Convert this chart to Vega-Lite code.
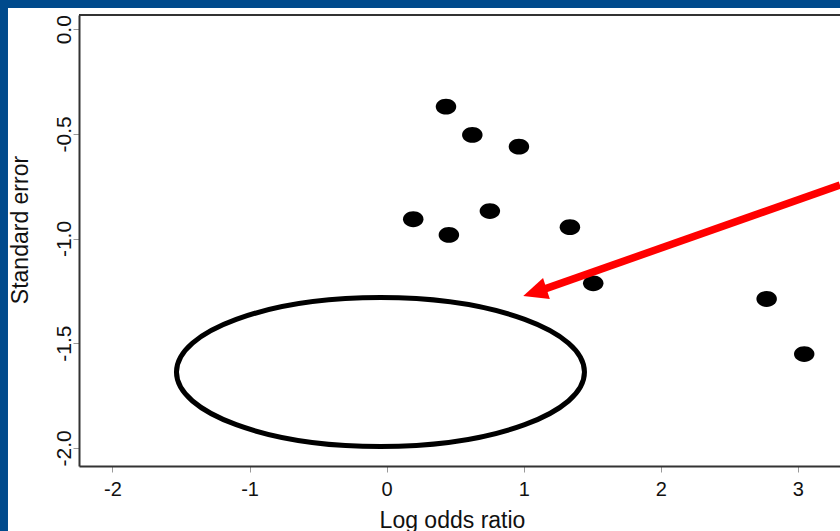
{
  "$schema": "https://vega.github.io/schema/vega-lite/v6.json",
  "width": 761,
  "height": 451,
  "autosize": {"type": "none"},
  "padding": {"left": 79, "top": 15, "right": 0, "bottom": 65},
  "background": "#004a8c",
  "config": {
    "view": {"stroke": null},
    "font": "Liberation Sans",
    "axis": {
      "grid": false, "zindex": 1, "labelColor": "#111111", "tickSize": 6, "tickColor": "#999999",
      "domainColor": "#333333", "domainWidth": 2, "titleFontSize": 23, "titleFontWeight": "normal", "titleColor": "#111111"
    },
    "axisX": {"labelFontSize": 20},
    "axisY": {"labelFontSize": 21}
  },
  "data": {"values": [{"frame": 1}]},
  "datasets": {
    "studies": [
      {"log_or": 0.433, "se": -0.370},
      {"log_or": 0.625, "se": -0.505},
      {"log_or": 0.965, "se": -0.561},
      {"log_or": 0.194, "se": -0.908},
      {"log_or": 0.454, "se": -0.983},
      {"log_or": 0.753, "se": -0.869},
      {"log_or": 1.337, "se": -0.946},
      {"log_or": 1.507, "se": -1.214},
      {"log_or": 2.772, "se": -1.289},
      {"log_or": 3.046, "se": -1.552}
    ],
    "arrow": [
      {"log_or": 3.307, "se": -0.744},
      {"log_or": 1.119, "se": -1.249}
    ],
    "arrowhead": [{"log_or": 1.081, "se": -1.257}],
    "ellipse": [{"log_or": -0.045, "se": -1.638}]
  },
  "layer": [
    {
      "mark": {"type": "rect", "fill": "white"},
      "encoding": {
        "x": {"datum": -2.762, "type": "quantitative", "scale": {"domain": [-2.244, 3.307], "nice": false, "zero": false},
          "axis": {"zindex": 1, "values": [-2, -1, 0, 1, 2, 3], "labelExpr": "datum.value < 0 ? '-' + format(-datum.value, 'd') : format(datum.value, 'd')", "labelBaseline": "alphabetic", "labelPadding": 23, "title": "Log odds ratio", "titleX": 373, "titleY": 61, "titleBaseline": "alphabetic", "titleAlign": "center"}},
        "x2": {"datum": 3.5},
        "y": {"datum": 0.102, "type": "quantitative", "scale": {"domain": [-2.087, 0.068], "nice": false, "zero": false},
          "axis": {"zindex": 1, "values": [0, -0.5, -1, -1.5, -2], "labelExpr": "datum.value < 0 ? '-' + format(-datum.value, '.1f') : format(datum.value, '.1f')", "labelAngle": -90, "labelAlign": "center", "labelBaseline": "alphabetic", "labelPadding": 3, "title": "Standard error", "titleX": -52, "titleY": 214.5, "titleBaseline": "alphabetic", "titleAlign": "center", "titleAngle": -90}},
        "y2": {"datum": -2.6}
      }
    },
    {
      "mark": {"type": "rule", "color": "#333333", "strokeWidth": 2},
      "encoding": {
        "y": {"datum": 0.068, "type": "quantitative", "scale": {"domain": [-2.087, 0.068], "nice": false, "zero": false},
          "axis": {"zindex": 1, "values": [0, -0.5, -1, -1.5, -2], "labelExpr": "datum.value < 0 ? '-' + format(-datum.value, '.1f') : format(datum.value, '.1f')", "labelAngle": -90, "labelAlign": "center", "labelBaseline": "alphabetic", "labelPadding": 3, "title": "Standard error", "titleX": -52, "titleY": 214.5, "titleBaseline": "alphabetic", "titleAlign": "center", "titleAngle": -90}}
      }
    },
    {
      "data": {"name": "ellipse"},
      "mark": {"type": "point", "shape": "M-1,0A1,0.365 0 1,0 1,0A1,0.365 0 1,0 -1,0", "size": 166464, "filled": false, "stroke": "black", "strokeWidth": 5, "opacity": 1},
      "encoding": {
        "x": {"field": "log_or", "type": "quantitative", "scale": {"domain": [-2.244, 3.307], "nice": false, "zero": false},
          "axis": {"zindex": 1, "values": [-2, -1, 0, 1, 2, 3], "labelExpr": "datum.value < 0 ? '-' + format(-datum.value, 'd') : format(datum.value, 'd')", "labelBaseline": "alphabetic", "labelPadding": 23, "title": "Log odds ratio", "titleX": 373, "titleY": 61, "titleBaseline": "alphabetic", "titleAlign": "center"}},
        "y": {"field": "se", "type": "quantitative", "scale": {"domain": [-2.087, 0.068], "nice": false, "zero": false},
          "axis": {"zindex": 1, "values": [0, -0.5, -1, -1.5, -2], "labelExpr": "datum.value < 0 ? '-' + format(-datum.value, '.1f') : format(datum.value, '.1f')", "labelAngle": -90, "labelAlign": "center", "labelBaseline": "alphabetic", "labelPadding": 3, "title": "Standard error", "titleX": -52, "titleY": 214.5, "titleBaseline": "alphabetic", "titleAlign": "center", "titleAngle": -90}}
      }
    },
    {
      "data": {"name": "studies"},
      "mark": {"type": "point", "shape": "M-1,0A1,0.77 0 1,0 1,0A1,0.77 0 1,0 -1,0", "size": 420, "filled": true, "color": "black", "opacity": 1},
      "encoding": {
        "x": {"field": "log_or", "type": "quantitative", "scale": {"domain": [-2.244, 3.307], "nice": false, "zero": false},
          "axis": {"zindex": 1, "values": [-2, -1, 0, 1, 2, 3], "labelExpr": "datum.value < 0 ? '-' + format(-datum.value, 'd') : format(datum.value, 'd')", "labelBaseline": "alphabetic", "labelPadding": 23, "title": "Log odds ratio", "titleX": 373, "titleY": 61, "titleBaseline": "alphabetic", "titleAlign": "center"}},
        "y": {"field": "se", "type": "quantitative", "scale": {"domain": [-2.087, 0.068], "nice": false, "zero": false},
          "axis": {"zindex": 1, "values": [0, -0.5, -1, -1.5, -2], "labelExpr": "datum.value < 0 ? '-' + format(-datum.value, '.1f') : format(datum.value, '.1f')", "labelAngle": -90, "labelAlign": "center", "labelBaseline": "alphabetic", "labelPadding": 3, "title": "Standard error", "titleX": -52, "titleY": 214.5, "titleBaseline": "alphabetic", "titleAlign": "center", "titleAngle": -90}}
      }
    },
    {
      "data": {"name": "arrow"},
      "mark": {"type": "line", "color": "#ff0000", "strokeWidth": 7.5, "strokeCap": "butt"},
      "encoding": {
        "x": {"field": "log_or", "type": "quantitative", "scale": {"domain": [-2.244, 3.307], "nice": false, "zero": false},
          "axis": {"zindex": 1, "values": [-2, -1, 0, 1, 2, 3], "labelExpr": "datum.value < 0 ? '-' + format(-datum.value, 'd') : format(datum.value, 'd')", "labelBaseline": "alphabetic", "labelPadding": 23, "title": "Log odds ratio", "titleX": 373, "titleY": 61, "titleBaseline": "alphabetic", "titleAlign": "center"}},
        "y": {"field": "se", "type": "quantitative", "scale": {"domain": [-2.087, 0.068], "nice": false, "zero": false},
          "axis": {"zindex": 1, "values": [0, -0.5, -1, -1.5, -2], "labelExpr": "datum.value < 0 ? '-' + format(-datum.value, '.1f') : format(datum.value, '.1f')", "labelAngle": -90, "labelAlign": "center", "labelBaseline": "alphabetic", "labelPadding": 3, "title": "Standard error", "titleX": -52, "titleY": 214.5, "titleBaseline": "alphabetic", "titleAlign": "center", "titleAngle": -90}}
      }
    },
    {
      "data": {"name": "arrowhead"},
      "mark": {"type": "point", "shape": "M0,-1L0.9,1L-0.9,1Z", "size": 595, "angle": 252, "filled": true, "color": "#ff0000", "opacity": 1},
      "encoding": {
        "x": {"field": "log_or", "type": "quantitative", "scale": {"domain": [-2.244, 3.307], "nice": false, "zero": false},
          "axis": {"zindex": 1, "values": [-2, -1, 0, 1, 2, 3], "labelExpr": "datum.value < 0 ? '-' + format(-datum.value, 'd') : format(datum.value, 'd')", "labelBaseline": "alphabetic", "labelPadding": 23, "title": "Log odds ratio", "titleX": 373, "titleY": 61, "titleBaseline": "alphabetic", "titleAlign": "center"}},
        "y": {"field": "se", "type": "quantitative", "scale": {"domain": [-2.087, 0.068], "nice": false, "zero": false},
          "axis": {"zindex": 1, "values": [0, -0.5, -1, -1.5, -2], "labelExpr": "datum.value < 0 ? '-' + format(-datum.value, '.1f') : format(datum.value, '.1f')", "labelAngle": -90, "labelAlign": "center", "labelBaseline": "alphabetic", "labelPadding": 3, "title": "Standard error", "titleX": -52, "titleY": 214.5, "titleBaseline": "alphabetic", "titleAlign": "center", "titleAngle": -90}}
      }
    }
  ]
}
